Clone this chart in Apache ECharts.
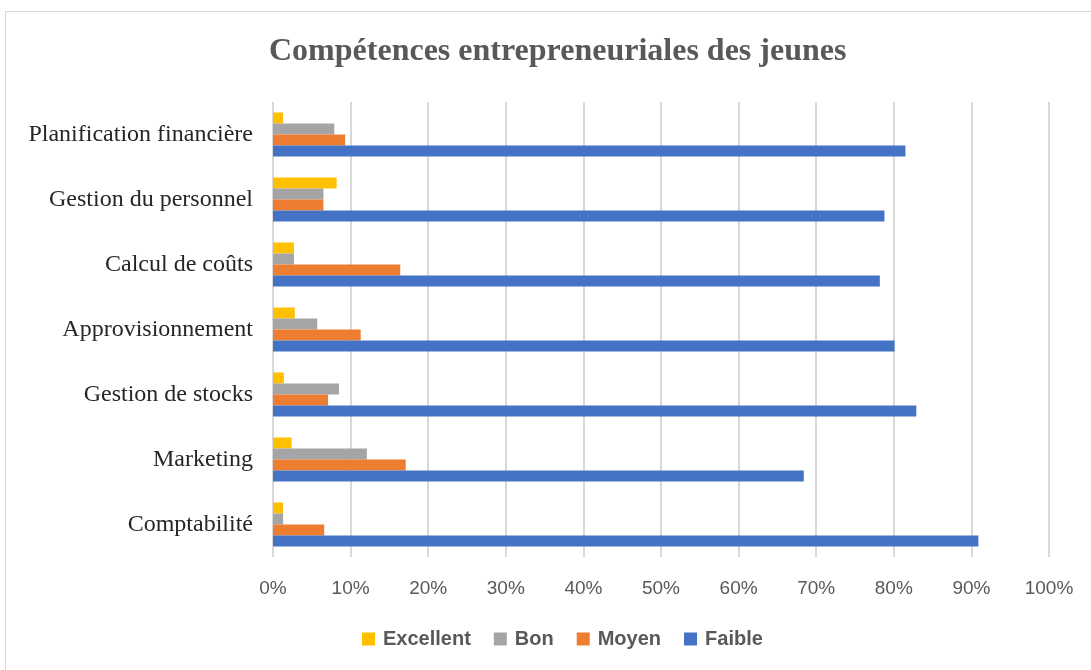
<!DOCTYPE html>
<html>
<head>
<meta charset="utf-8">
<script src="https://cdn.jsdelivr.net/npm/echarts@6/dist/echarts.min.js"></script>
<style>
  html, body { margin: 0; padding: 0; background: #fff; }
  #frame { position: absolute; left: 5px; top: 11px; width: 1100px; height: 680px; border: 1px solid #d9d9d9; box-sizing: border-box; }
  #chart { position: absolute; left: 0; top: 0; width: 1091px; height: 670px; }
</style>
</head>
<body>
<div id="frame"></div>
<div id="chart"></div>
<script>
'use strict';
// catégories, de bas en haut (axe ECharts)
var categories = ['Comptabilité', 'Marketing', 'Gestion de stocks', 'Approvisionnement', 'Calcul de coûts', 'Gestion du personnel', 'Planification financière'];
// valeurs en %
var faible    = [90.9, 68.4, 82.9, 80.1, 78.2, 78.8, 81.5];
var moyen     = [6.6, 17.1, 7.1, 11.3, 16.4, 6.5, 9.3];
var bon       = [1.3, 12.1, 8.5, 5.7, 2.7, 6.5, 7.9];
var excellent = [1.3, 2.4, 1.4, 2.8, 2.7, 8.2, 1.3];
var legendNames = ['Excellent', 'Bon', 'Moyen', 'Faible'];

var myChart = echarts.init(document.getElementById('chart'));

function barSeries(name, data, color) {
    return {
        name: name,
        type: 'bar',
        data: data,
        barWidth: 11,
        barGap: '0%',
        itemStyle: { color: color },
        silent: true
    };
}

var option = {
    animation: false,
    title: {
        text: 'Compétences entrepreneuriales des jeunes',
        left: 264,
        top: 31,
        textStyle: {
            fontFamily: 'Liberation Serif',
            fontWeight: 'bold',
            fontSize: 32,
            color: '#595959'
        }
    },
    legend: {
        data: legendNames,
        bottom: 16,
        left: 357,
        itemWidth: 13,
        itemHeight: 13,
        itemGap: 23,
        icon: 'rect',
        textStyle: {
            fontFamily: 'Liberation Sans',
            fontWeight: 'bold',
            fontSize: 20,
            color: '#595959',
            padding: [0, 0, 0, 3]
        }
    },
    grid: {
        left: 273,
        right: 42,
        top: 102,
        bottom: 113,
        containLabel: false
    },
    xAxis: {
        type: 'value',
        min: 0,
        max: 100,
        interval: 10,
        axisLine: { show: false },
        axisTick: { show: false },
        axisLabel: {
            formatter: '{value}%',
            fontFamily: 'Liberation Sans',
            fontSize: 19,
            color: '#595959',
            margin: 22
        },
        splitLine: { lineStyle: { color: '#d9d9d9', width: 2 } }
    },
    yAxis: {
        type: 'category',
        data: categories,
        axisLine: { show: false },
        axisTick: { show: false },
        axisLabel: {
            fontFamily: 'Liberation Serif',
            fontSize: 24,
            color: '#262626',
            margin: 20
        }
    },
    series: [
        barSeries('Excellent', excellent, '#ffc000'),
        barSeries('Bon', bon, '#a5a5a5'),
        barSeries('Moyen', moyen, '#ed7d31'),
        barSeries('Faible', faible, '#4472c4')
    ]
};
myChart.setOption(option);
</script>
</body>
</html>
